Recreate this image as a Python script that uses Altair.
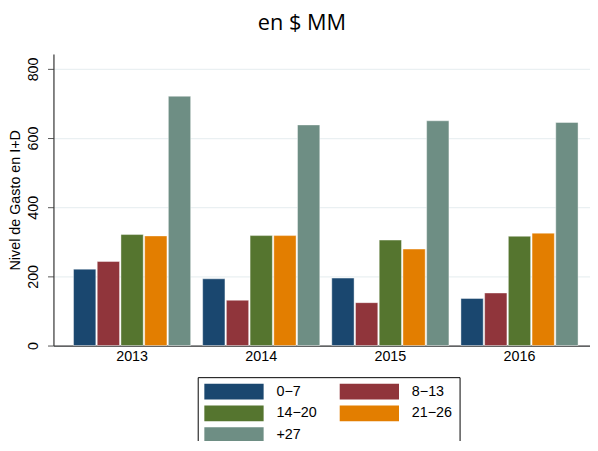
import altair as alt
import pandas as pd

years = ["2013", "2014", "2015", "2016"]
groups = ["0−7", "8−13", "14−20", "21−26", "+27"]
colors = ["#1a476f", "#90353b", "#55752f", "#e37e00", "#6e8e84"]
v_0_7 = [221, 193, 195, 136]
v_8_13 = [243, 131, 124, 152]
v_14_20 = [321, 318, 305, 316]
v_21_26 = [317, 318, 279, 325]
v_27 = [721, 638, 650, 645]
y_ticks = [0, 200, 400, 600, 800]

series = [v_0_7, v_8_13, v_14_20, v_21_26, v_27]
rows = []
for g, vals in zip(groups, series):
    for yr, v in zip(years, vals):
        rows.append({"year": yr, "group": g, "value": v})
df = pd.DataFrame(rows)

rect_path = "M-3.75,-1L3.75,-1L3.75,1L-3.75,1Z"

chart = alt.Chart(df).mark_bar(stroke="white", strokeWidth=0.6, strokeOpacity=0.7).encode(
    x=alt.X("year:N", sort=years,
            scale=alt.Scale(paddingInner=0.093, paddingOuter=0.124, align=0.627),
            axis=alt.Axis(title=None, labelAngle=0, ticks=False, labelPadding=4,
                          labelFont="Liberation Sans", labelFontSize=14.5, labelColor="black",
                          domainColor="#333333", domainWidth=1.2, grid=False)),
    xOffset=alt.XOffset("group:N", sort=groups,
                        scale=alt.Scale(paddingInner=0.06, paddingOuter=0)),
    y=alt.Y("value:Q",
            scale=alt.Scale(domain=[0, 843], nice=False),
            axis=alt.Axis(title="Nivel de Gasto en I+D", values=y_ticks, labelAngle=270,
                          labelFont="Liberation Sans", labelFontSize=14.5, labelColor="black",
                          titleFont="Liberation Sans", titleFontSize=14.5, titleFontWeight="normal",
                          titleColor="black", titlePadding=3, labelPadding=7,
                          tickSize=6, tickColor="#555555", domainColor="#333333", domainWidth=1.2,
                          grid=True, gridColor="#eaf0f2", gridWidth=1.2)),
    color=alt.Color("group:N", sort=groups,
                    scale=alt.Scale(domain=groups, range=colors),
                    legend=alt.Legend(orient="none", legendX=146, legendY=327, columns=2,
                                      direction="horizontal",
                                      title=None, symbolType=rect_path, symbolSize=256,
                                      symbolStrokeWidth=0, symbolOffset=22, labelOffset=35,
                                      columnPadding=23, rowPadding=6, padding=6.7,
                                      strokeColor="black", fillColor="white",
                                      labelFont="Liberation Sans", labelFontSize=14.5,
                                      labelColor="black", symbolOpacity=1)),
).properties(
    width=543,
    height=295,
    title=alt.TitleParams("en $ MM", font="Open Sans", fontSize=22, fontWeight="normal",
                          anchor="middle", dx=-20, offset=2, baseline="alphabetic", color="black"),
    autosize=alt.AutoSizeParams(type="none"),
    padding={"left": 46, "top": 44, "right": 0, "bottom": 94},
).configure_view(stroke=None)

chart.save("out.html", embed_options={"renderer": "svg", "actions": False})
